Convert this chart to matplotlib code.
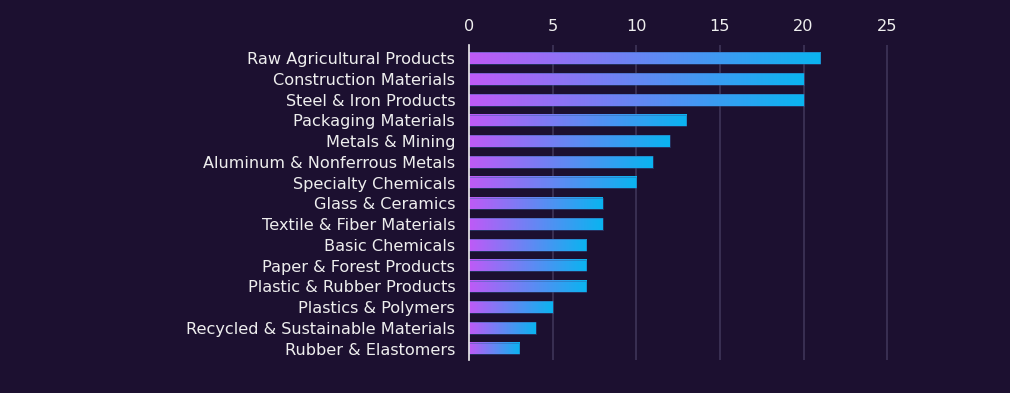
import numpy as np
import matplotlib.pyplot as plt
from matplotlib.colors import LinearSegmentedColormap

categories = ["Raw Agricultural Products", "Construction Materials", "Steel & Iron Products",
              "Packaging Materials", "Metals & Mining", "Aluminum & Nonferrous Metals",
              "Specialty Chemicals", "Glass & Ceramics", "Textile & Fiber Materials",
              "Basic Chemicals", "Paper & Forest Products", "Plastic & Rubber Products",
              "Plastics & Polymers", "Recycled & Sustainable Materials", "Rubber & Elastomers"]
values = [21, 20, 20, 13, 12, 11, 10, 8, 8, 7, 7, 7, 5, 4, 3]
ticks = [0, 5, 10, 15, 20, 25]

bg = "#1c1030"
cmap = LinearSegmentedColormap.from_list("pb", ["#bf5af7", "#0ab4f0"])
grad = np.linspace(0, 1, 256).reshape(1, -1)

plt.rcParams['font.family'] = ['DejaVu Sans']
fig = plt.figure(figsize=(10.1, 3.93), dpi=100, facecolor=bg)
ax = fig.add_axes([0.4644, 0.084, 0.895 - 0.4644, 0.885 - 0.084], facecolor=bg)

h = 0.56
for i, v in enumerate(values):
    ax.imshow(grad, cmap=cmap, aspect='auto', extent=[0, v, i + h / 2, i - h / 2],
              interpolation='bilinear', zorder=3)
    ax.add_patch(plt.Rectangle((0, i - h / 2), v, h, fill=False, edgecolor="#3060a0",
                               linewidth=0.6, alpha=0.5, zorder=4))

ax.set_xlim(0, 26)
ax.set_ylim(14.55, -0.63)
ax.set_yticks(range(len(categories)))
ax.set_yticklabels(categories, color="#eeeeee", fontsize=11.6)
ax.set_xticks(ticks)
ax.xaxis.tick_top()
ax.tick_params(axis='x', colors="#eeeeee", labelsize=11.6, length=0, pad=8)
ax.tick_params(axis='y', length=0, pad=10)
ax.grid(axis='x', color="#3e3558", linewidth=1.2, zorder=0)
ax.set_axisbelow(True)
for s in ['top', 'right', 'bottom']:
    ax.spines[s].set_visible(False)
ax.spines['left'].set_color("#eeeeee")
ax.spines['left'].set_linewidth(1.2)
ax.spines['left'].set_zorder(5)

fig.savefig("out.png", dpi=100, facecolor=bg)
